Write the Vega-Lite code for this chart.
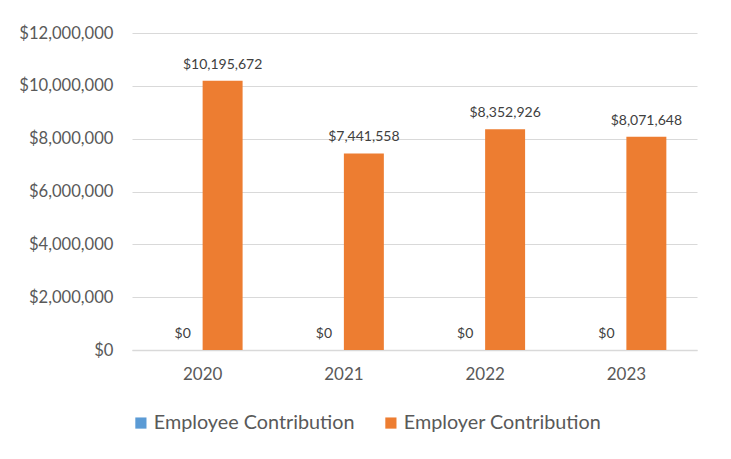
{
  "$schema": "https://vega.github.io/schema/vega-lite/v6.json",
  "width": 565,
  "height": 317,
  "autosize": {"type": "none"},
  "padding": {"left": 132, "top": 33, "right": 34, "bottom": 109},
  "background": "white",
  "config": {
    "view": {"stroke": null},
    "font": "Lato",
    "axis": {"labelFont": "Lato", "labelColor": "#595959"},
    "legend": {"labelFont": "Lato", "labelColor": "#595959"}
  },
  "data": {
    "values": [
      {"year": "2020", "series": "Employee Contribution", "value": 0},
      {"year": "2020", "series": "Employer Contribution", "value": 10195672},
      {"year": "2021", "series": "Employee Contribution", "value": 0},
      {"year": "2021", "series": "Employer Contribution", "value": 7441558},
      {"year": "2022", "series": "Employee Contribution", "value": 0},
      {"year": "2022", "series": "Employer Contribution", "value": 8352926},
      {"year": "2023", "series": "Employee Contribution", "value": 0},
      {"year": "2023", "series": "Employer Contribution", "value": 8071648}
    ]
  },
  "encoding": {
    "x": {
      "field": "year",
      "type": "nominal",
      "scale": {"paddingInner": 0.434, "paddingOuter": 0.217},
      "axis": {
        "title": null,
        "labelAngle": 0,
        "labelFontSize": 17,
        "labelPadding": 16,
        "ticks": false,
        "domainColor": "#d9d9d9",
        "domainWidth": 1.5,
        "grid": false
      }
    },
    "xOffset": {
      "field": "series",
      "type": "nominal",
      "scale": {"domain": ["Employee Contribution", "Employer Contribution"], "paddingInner": 0}
    },
    "y": {
      "field": "value",
      "type": "quantitative",
      "scale": {"domain": [0, 12000000], "nice": false},
      "axis": {
        "title": null,
        "values": [0, 2000000, 4000000, 6000000, 8000000, 10000000, 12000000],
        "format": "$,.0f",
        "labelFontSize": 16.6,
        "labelPadding": 19,
        "ticks": false,
        "domain": false,
        "gridColor": "#d9d9d9",
        "gridWidth": 1
      }
    }
  },
  "layer": [
    {
      "mark": {"type": "bar"},
      "encoding": {
        "color": {
          "field": "series",
          "type": "nominal",
          "scale": {
            "domain": ["Employee Contribution", "Employer Contribution"],
            "range": ["#5B9BD5", "#ED7D31"]
          },
          "legend": {
            "title": null,
            "orient": "none",
            "direction": "horizontal",
            "legendX": -1,
            "legendY": 380,
            "symbolType": "square",
            "symbolSize": 125,
            "symbolStrokeWidth": 0,
            "symbolOpacity": 1,
            "labelFontSize": 19.8,
            "labelLimit": 0,
            "columnPadding": 26,
            "labelOffset": 3,
            "columns": 2
          }
        }
      }
    },
    {
      "mark": {"type": "text", "baseline": "bottom", "dy": -9, "fontSize": 14, "color": "#404040"},
      "encoding": {
        "text": {"field": "value", "type": "quantitative", "format": "$,.0f"}
      }
    }
  ]
}
